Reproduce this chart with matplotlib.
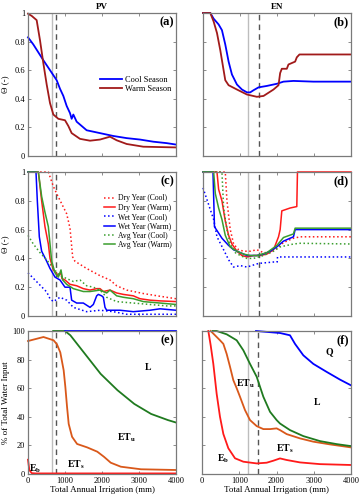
import matplotlib
matplotlib.use('Agg')
import matplotlib.pyplot as plt

# === style ===
plt.rcParams['font.family'] = 'serif'
plt.rcParams['font.serif'] = ['Liberation Serif', 'DejaVu Serif']
plt.rcParams['mathtext.fontset'] = 'custom'
plt.rcParams['mathtext.rm'] = 'Liberation Serif'
plt.rcParams['mathtext.bf'] = 'Liberation Serif:bold'
plt.rcParams['mathtext.it'] = 'Liberation Serif:italic'

# === data: panel (a) PV seasons ===
a_cool_x = [0, 144, 414, 595, 775, 865, 955, 1045, 1135, 1180, 1225, 1315, 1405, 1585, 1766, 1946, 2306, 2667, 3027, 3387, 3748, 4000]
a_cool_y = [0.83, 0.78, 0.67, 0.60, 0.53, 0.47, 0.42, 0.35, 0.30, 0.26, 0.29, 0.24, 0.22, 0.18, 0.17, 0.16, 0.14, 0.125, 0.115, 0.10, 0.09, 0.08]
a_warm_x = [0, 99, 234, 324, 414, 505, 595, 685, 820, 1000, 1090, 1180, 1405, 1676, 1946, 2216, 2396, 2667, 3117, 4000]
a_warm_y = [0.995, 0.98, 0.95, 0.81, 0.65, 0.50, 0.37, 0.29, 0.26, 0.25, 0.21, 0.16, 0.12, 0.107, 0.115, 0.135, 0.11, 0.084, 0.065, 0.06]

# === panel (b) EN seasons ===
b_cool_x = [0, 198, 288, 422, 512, 602, 692, 782, 917, 1052, 1187, 1276, 1366, 1501, 1726, 1996, 2175, 2445, 2984, 4000]
b_cool_y = [1, 1, 0.96, 0.92, 0.88, 0.78, 0.66, 0.57, 0.50, 0.465, 0.445, 0.445, 0.46, 0.48, 0.49, 0.505, 0.52, 0.525, 0.52, 0.52]
b_warm_x = [0, 198, 288, 378, 467, 557, 602, 692, 917, 1187, 1456, 1636, 1906, 2041, 2085, 2130, 2265, 2310, 2490, 2535, 2607, 4000]
b_warm_y = [1, 1, 0.94, 0.86, 0.74, 0.60, 0.53, 0.495, 0.465, 0.43, 0.414, 0.42, 0.465, 0.495, 0.58, 0.61, 0.61, 0.64, 0.66, 0.69, 0.71, 0.71]

# === panel (c) PV year types ===
c_dry_cool_x = [0, 550, 685, 775, 1045, 1135, 1207, 1270, 1585, 1946, 2216, 2396, 2667, 3117, 3568, 4000]
c_dry_cool_y = [1, 1, 0.90, 0.85, 0.71, 0.61, 0.41, 0.38, 0.33, 0.28, 0.25, 0.21, 0.18, 0.156, 0.137, 0.12]
c_dry_warm_x = [0, 280, 369, 459, 550, 595, 685, 820, 892, 919, 1000, 1135, 1315, 1495, 1676, 1856, 1946, 2036, 2216, 2396, 2577, 2847, 3027, 3297, 3568, 4000]
c_dry_warm_y = [1, 1, 0.80, 0.62, 0.50, 0.40, 0.32, 0.28, 0.30, 0.26, 0.25, 0.22, 0.21, 0.19, 0.18, 0.19, 0.19, 0.17, 0.18, 0.16, 0.15, 0.14, 0.12, 0.11, 0.105, 0.10]
c_wet_cool_x = [0, 505, 595, 685, 865, 1045, 1225, 1585, 1946, 2306, 2667, 4000]
c_wet_cool_y = [0.30, 0.167, 0.12, 0.10, 0.13, 0.11, 0.06, 0.03, 0.04, 0.03, 0.012, 0.012]
c_wet_warm_x = [0, 216, 252, 306, 369, 505, 595, 730, 865, 1000, 1135, 1180, 1315, 1495, 1676, 1766, 1856, 1901, 1991, 2036, 2081, 2126, 2486, 2847, 3297, 3568, 4000]
c_wet_warm_y = [1, 1, 0.80, 0.55, 0.45, 0.38, 0.33, 0.27, 0.25, 0.20, 0.20, 0.11, 0.09, 0.09, 0.06, 0.08, 0.14, 0.15, 0.14, 0.13, 0.06, 0.04, 0.04, 0.03, 0.04, 0.05, 0.04]
c_avg_cool_x = [0, 144, 324, 505, 685, 865, 1045, 1225, 1405, 1585, 1766, 1946, 2126, 2396, 2847, 3297, 3748, 4000]
c_avg_cool_y = [0.56, 0.50, 0.44, 0.39, 0.33, 0.28, 0.26, 0.24, 0.25, 0.21, 0.20, 0.18, 0.13, 0.10, 0.09, 0.08, 0.07, 0.07]
c_avg_warm_x = [0, 280, 369, 459, 550, 595, 640, 730, 820, 892, 937, 1045, 1225, 1495, 1676, 1946, 2126, 2216, 2396, 2577, 2847, 3117, 3568, 4000]
c_avg_warm_y = [1, 1, 0.83, 0.72, 0.62, 0.50, 0.38, 0.30, 0.27, 0.32, 0.25, 0.22, 0.19, 0.17, 0.17, 0.18, 0.16, 0.18, 0.14, 0.13, 0.12, 0.10, 0.09, 0.08]

# === panel (d) EN year types ===
d_dry_cool_x = [0, 602, 647, 737, 827, 962, 1097, 1276, 1456, 1636, 1816, 1996, 2175, 2445, 2625, 4000]
d_dry_cool_y = [1, 1, 0.80, 0.60, 0.50, 0.46, 0.45, 0.45, 0.46, 0.44, 0.44, 0.47, 0.51, 0.54, 0.55, 0.55]
d_dry_warm_x = [0, 378, 422, 512, 602, 692, 782, 917, 1052, 1187, 1366, 1546, 1726, 1906, 2041, 2085, 2130, 2355, 2535, 2553, 4000]
d_dry_warm_y = [1, 1, 0.88, 0.80, 0.66, 0.56, 0.50, 0.45, 0.42, 0.41, 0.42, 0.42, 0.43, 0.46, 0.55, 0.60, 0.73, 0.75, 0.76, 1.0, 1.0]
d_wet_cool_x = [0, 288, 378, 557, 692, 827, 1007, 1187, 1501, 1906, 2005, 2014, 4000]
d_wet_cool_y = [0.89, 0.67, 0.55, 0.46, 0.39, 0.34, 0.35, 0.34, 0.365, 0.375, 0.375, 0.41, 0.41]
d_wet_warm_x = [0, 270, 310, 512, 692, 827, 1007, 1187, 1456, 1636, 1816, 1996, 2175, 2445, 2490, 4000]
d_wet_warm_y = [1, 1, 0.62, 0.54, 0.49, 0.46, 0.44, 0.42, 0.42, 0.43, 0.45, 0.48, 0.52, 0.55, 0.60, 0.60]
d_avg_cool_x = [0, 512, 557, 647, 737, 872, 1007, 1187, 1366, 1636, 1906, 2085, 2445, 2625, 4000]
d_avg_cool_y = [1, 1, 0.75, 0.60, 0.50, 0.44, 0.42, 0.40, 0.40, 0.42, 0.45, 0.48, 0.50, 0.505, 0.50]
d_avg_warm_x = [0, 288, 333, 422, 512, 602, 737, 917, 1097, 1276, 1456, 1726, 1996, 2175, 2445, 2490, 4000]
d_avg_warm_y = [1, 1, 0.85, 0.75, 0.67, 0.56, 0.48, 0.45, 0.43, 0.42, 0.42, 0.44, 0.49, 0.545, 0.57, 0.61, 0.61]

# === panel (e) PV water partition (cumulative %) ===
e_eb_x = [0, 36, 100, 200, 4000]
e_eb_y = [10, 2.8, 0.6, 0.4, 0.4]
e_ets_x = [0, 418, 691, 782, 873, 964, 1009, 1055, 1100, 1191, 1327, 1600, 1873, 2055, 2236, 2509, 3055, 4000]
e_ets_y = [93, 95.8, 93.5, 90.7, 85, 72.5, 61, 47, 35, 26, 21, 18.6, 15.6, 12, 7.9, 5.1, 3.3, 2.8]
e_etu_x = [680, 1000, 1145, 1327, 1600, 1964, 2418, 2873, 3327, 3782, 4000]
e_etu_y = [100, 100, 97, 91, 82, 70, 58.6, 49, 42, 37.7, 36]
e_l_x = [1000, 4000]
e_l_y = [100, 100]

# === panel (f) EN water partition (cumulative %) ===
f_eb_x = [170, 233, 304, 394, 483, 573, 707, 886, 1110, 1468, 1736, 1915, 2094, 2273, 2631, 3168, 4000]
f_eb_y = [100, 90, 77, 56, 40, 28, 18, 11, 8.6, 7.4, 7.9, 9.3, 10.9, 9.8, 8.1, 6.9, 6.3]
f_ets_x = [233, 349, 483, 573, 662, 752, 841, 931, 1020, 1154, 1289, 1468, 1647, 1826, 2004, 2094, 2273, 2631, 2989, 3436, 4000]
f_ets_y = [100, 97, 93.5, 91, 84, 75, 65.6, 60, 54, 44.7, 37.7, 33.5, 31.4, 31.4, 31.9, 30.7, 27.9, 24.9, 22.6, 20.7, 18.6]
f_etu_x = [287, 394, 662, 931, 1110, 1289, 1468, 1647, 1826, 2004, 2094, 2362, 2720, 3168, 3615, 4000]
f_etu_y = [100, 100, 97.7, 93.5, 86.5, 77, 68, 54, 43.5, 37.7, 35.3, 30.7, 26.5, 23, 20.9, 19.5]
f_l_x = [1450, 2094, 2362, 2497, 2720, 2989, 3347, 3705, 4000]
f_l_y = [100, 98.6, 97, 91, 83, 77, 71.4, 66, 62]

# reference irrigation lines (gray solid, dashed)
pv_vlines = [640, 770]
en_vlines = [1225, 1500]

# === colors ===
c_blue = '#0000FF'
c_darkred = '#A11A1A'
c_red = '#FF1A1A'
c_green = '#3A9E2E'
c_orange = '#D9581A'
c_dgreen = '#1F7A1F'
c_frame = '#7A7A7A'

fig = plt.figure(figsize=(3.61, 5.0), dpi=100)
W, H = 361.0, 500.0

def make_ax(left, top, right, bottom):
    return fig.add_axes([left / W, 1 - bottom / H, (right - left) / W, (bottom - top) / H])

ax_a = make_ax(28, 13, 176, 156)
ax_b = make_ax(203, 13, 351, 156)
ax_c = make_ax(28, 172, 176, 316)
ax_d = make_ax(203, 172, 351, 316)
ax_e = make_ax(28, 331, 176, 474)
ax_f = make_ax(202, 331, 351, 474)

lw = 1.3
for ax in [ax_a, ax_b, ax_c, ax_d, ax_e, ax_f]:
    ax.set_xlim(0, 4000)
    ax.set_xticks([0, 1000, 2000, 3000, 4000])
    for s in ax.spines.values():
        s.set_color(c_frame)
        s.set_linewidth(0.9)
    ax.tick_params(direction='in', length=2, width=0.6, color=c_frame,
                   top=True, right=True, labelsize=6, pad=2)

for ax in [ax_a, ax_b, ax_c, ax_d]:
    ax.set_ylim(0, 1)
    ax.set_yticks([0, 0.2, 0.4, 0.6, 0.8, 1])
    ax.tick_params(labelbottom=False)
for ax in [ax_e, ax_f]:
    ax.set_ylim(0, 100)
    ax.set_yticks([0, 20, 40, 60, 80, 100])
for ax in [ax_b, ax_d, ax_f]:
    ax.tick_params(labelleft=False)
ax_a.set_yticklabels(['0', '0.2', '0.4', '0.6', '0.8', '1'])
ax_c.set_yticklabels(['0', '0.2', '0.4', '0.6', '0.8', '1'])

for ax, vl in [(ax_a, pv_vlines), (ax_c, pv_vlines), (ax_e, pv_vlines),
               (ax_b, en_vlines), (ax_d, en_vlines), (ax_f, en_vlines)]:
    ax.axvline(vl[0], color='#BDBDBD', lw=1.0, zorder=1)
    ax.axvline(vl[1], color='#555555', lw=1.0, ls=(0, (4, 3)), zorder=1)

# --- (a) ---
ax_a.plot(a_cool_x, a_cool_y, color=c_blue, lw=lw, label='Cool Season', clip_on=False)
ax_a.plot(a_warm_x, a_warm_y, color=c_darkred, lw=lw, label='Warm Season', clip_on=False)
ax_a.legend(loc='center right', bbox_to_anchor=(1.0, 0.5), frameon=False, fontsize=6,
            handlelength=2.6, handletextpad=0.3, labelspacing=0.2, borderaxespad=0.2)
ax_a.set_title('PV', fontsize=6.5, fontweight='bold', pad=3)
ax_a.set_ylabel('Θ (-)', fontsize=6.5, labelpad=4)

# --- (b) ---
ax_b.plot(b_cool_x, b_cool_y, color=c_blue, lw=lw, clip_on=False)
ax_b.plot(b_warm_x, b_warm_y, color=c_darkred, lw=lw, clip_on=False)
ax_b.set_title('EN', fontsize=6.5, fontweight='bold', pad=3)

# --- (c) & (d) ---
lw2 = 1.1
def year_lines(ax, d):
    ax.plot(d[0][0], d[0][1], color=c_red, lw=lw2, ls=':', label='Dry Year (Cool)', clip_on=False)
    ax.plot(d[1][0], d[1][1], color=c_red, lw=lw2, label='Dry Year (Warm)', clip_on=False)
    ax.plot(d[2][0], d[2][1], color=c_blue, lw=lw2, ls=':', label='Wet Year (Cool)', clip_on=False)
    ax.plot(d[3][0], d[3][1], color=c_blue, lw=lw2, label='Wet Year (Warm)', clip_on=False)
    ax.plot(d[4][0], d[4][1], color=c_green, lw=lw2, ls=':', label='Avg Year (Cool)', clip_on=False)
    ax.plot(d[5][0], d[5][1], color=c_green, lw=lw2, label='Avg Year (Warm)', clip_on=False)

year_lines(ax_c, [(c_dry_cool_x, c_dry_cool_y), (c_dry_warm_x, c_dry_warm_y),
                  (c_wet_cool_x, c_wet_cool_y), (c_wet_warm_x, c_wet_warm_y),
                  (c_avg_cool_x, c_avg_cool_y), (c_avg_warm_x, c_avg_warm_y)])
year_lines(ax_d, [(d_dry_cool_x, d_dry_cool_y), (d_dry_warm_x, d_dry_warm_y),
                  (d_wet_cool_x, d_wet_cool_y), (d_wet_warm_x, d_wet_warm_y),
                  (d_avg_cool_x, d_avg_cool_y), (d_avg_warm_x, d_avg_warm_y)])
ax_c.legend(loc='center right', bbox_to_anchor=(1.0, 0.655), frameon=False, fontsize=5.5,
            handlelength=1.5, handletextpad=0.3, labelspacing=0.18, borderaxespad=0.2)
ax_c.set_ylabel('Θ (-)', fontsize=6.5, labelpad=4)

# --- (e) & (f) ---
def partition(ax, eb, ets, etu, l):
    ax.plot(eb[0], eb[1], color=c_red, lw=lw, clip_on=False)
    ax.plot(ets[0], ets[1], color=c_orange, lw=lw, clip_on=False)
    ax.plot(etu[0], etu[1], color=c_dgreen, lw=lw, clip_on=False)
    ax.plot(l[0], l[1], color=c_blue, lw=lw, clip_on=False)

partition(ax_e, (e_eb_x, e_eb_y), (e_ets_x, e_ets_y), (e_etu_x, e_etu_y), (e_l_x, e_l_y))
partition(ax_f, (f_eb_x, f_eb_y), (f_ets_x, f_ets_y), (f_etu_x, f_etu_y), (f_l_x, f_l_y))

lab = dict(fontsize=7, ha='center', va='center')
ax_e.text(3236, 75, r'$\mathbf{L}$', **lab)
ax_e.text(2645, 25, r'$\mathbf{ET_u}$', **lab)
ax_e.text(1282, 6.5, r'$\mathbf{ET_s}$', **lab)
ax_e.text(190, 4, r'$\mathbf{E_b}$', **lab)
ax_f.text(3436, 85, r'$\mathbf{Q}$', **lab)
ax_f.text(3078, 50.5, r'$\mathbf{L}$', **lab)
ax_f.text(1154, 63, r'$\mathbf{ET_u}$', **lab)
ax_f.text(2228, 18, r'$\mathbf{ET_s}$', **lab)
ax_f.text(573, 11, r'$\mathbf{E_b}$', **lab)

ax_e.set_ylabel('% of Total Water Input', fontsize=6.5, labelpad=2)
ax_e.set_xlabel('Total Annual Irrigation (mm)', fontsize=6.5, labelpad=1)
ax_f.set_xlabel('Total Annual Irrigation (mm)', fontsize=6.5, labelpad=1)

# panel letters
for ax, t in zip([ax_a, ax_b, ax_c, ax_d, ax_e, ax_f], ['(a)', '(b)', '(c)', '(d)', '(e)', '(f)']):
    ax.text(0.985, 0.975, t, transform=ax.transAxes, ha='right', va='top',
            fontsize=9, fontweight='bold')

fig.savefig('out.png', dpi=100)
